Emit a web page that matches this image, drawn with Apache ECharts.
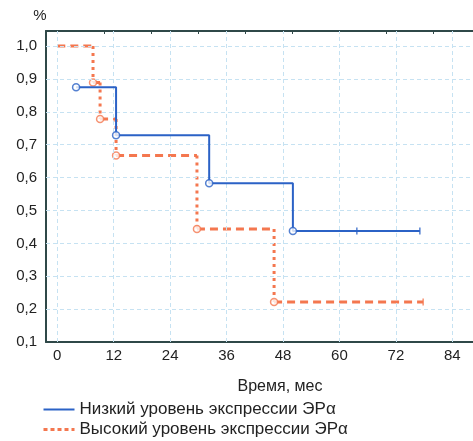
<!DOCTYPE html>
<html>
<head>
<meta charset="utf-8">
<script src="https://cdn.jsdelivr.net/npm/echarts@6/dist/echarts.min.js"></script>
<style>html,body{margin:0;padding:0;background:#fff;}#c{width:473px;height:441px;}</style>
</head>
<body>
<div id="c"></div>
<script>
// Kaplan–Meier steps (time in months, survival fraction)
const lowName = 'Низкий уровень экспрессии ЭРα';
const highName = 'Высокий уровень экспрессии ЭРα';
const lowTimes = [4, 12.5, 32.3, 50.1];
const lowSurv = [0.875, 0.729, 0.583, 0.438];
const lowEnd = 77.1;
const lowCensored = [63.7, 77.1];
const highTimes = [0, 7.6, 9.1, 12.5, 29.7, 46.1];
const highSurv = [1.0, 0.889, 0.778, 0.667, 0.444, 0.222];
const highEnd = 77.8;
const highCensored = [77.8];
const xTicks = [0, 12, 24, 36, 48, 60, 72, 84];
const xTopTicks = [10, 20, 30, 40, 50, 60, 70, 80];
const yTicks = [0.1, 0.2, 0.3, 0.4, 0.5, 0.6, 0.7, 0.8, 0.9, 1.0];

const blue = '#2b62c6';
const red = '#f4774f';
const font = "'Liberation Sans', Arial, sans-serif";

function stepPath(times, surv, end) {
  const pts = [];
  for (let i = 0; i < times.length; i++) {
    const next = i + 1 < times.length ? times[i + 1] : end;
    pts.push([times[i], surv[i]]);
    pts.push([next, surv[i]]);
    if (i + 1 < times.length) pts.push([next, surv[i + 1]]);
  }
  return pts;
}
function horizontals(times, surv, end) {
  const pts = [];
  for (let i = 0; i < times.length; i++) {
    const next = i + 1 < times.length ? times[i + 1] : end;
    pts.push([times[i], surv[i]], [next, surv[i]], null);
  }
  return pts;
}
function verticals(times, surv) {
  const pts = [];
  for (let i = 1; i < times.length; i++) {
    pts.push([times[i], surv[i - 1]], [times[i], surv[i]], null);
  }
  return pts;
}
function censorPts(ct, times, surv) {
  return ct.map(t => {
    let v = surv[0];
    for (let i = 0; i < times.length; i++) if (times[i] <= t) v = surv[i];
    return [t, v];
  });
}

const gridMarks = [];
xTicks.forEach(v => gridMarks.push({ xAxis: v }));
yTicks.slice(1).forEach(v => gridMarks.push({ yAxis: v }));

const tickMark = 'path://M0,0 H1 V10 H0 Z';

const chart = echarts.init(document.getElementById('c'));
chart.setOption({
  animation: false,
  backgroundColor: '#fff',
  textStyle: { fontFamily: font },
  grid: { left: 46, right: 0, top: 31, bottom: 99 },
  xAxis: [{
    type: 'value', min: -2.4, max: 88.4,
    name: 'Время, мес', nameLocation: 'middle', nameGap: 37,
    nameTextStyle: { fontSize: 16, color: '#222', padding: [0, 0, 0, 41] },
    axisLine: { show: true, onZero: false, lineStyle: { color: '#2f4848', width: 2 } },
    axisTick: { show: false, customValues: xTicks },
    axisLabel: { customValues: xTicks, fontSize: 15, color: '#222', margin: 6 },
    splitLine: { show: false }
  }, {
    type: 'value', min: -2.4, max: 88.4, position: 'top',
    axisLine: { show: true, onZero: false, lineStyle: { color: '#2f4848', width: 2 } },
    axisTick: { show: true, inside: true, length: 3, customValues: xTopTicks, lineStyle: { color: '#2f4848' } },
    axisLabel: { show: false },
    splitLine: { show: false }
  }],
  yAxis: {
    type: 'value', min: 0.1, max: 1.046,
    name: '%', nameLocation: 'end', nameGap: 8,
    nameTextStyle: { fontSize: 15, color: '#222', padding: [0, 12, 0, 0] },
    axisLine: { show: true, onZero: false, lineStyle: { color: '#2f4848', width: 2 } },
    axisTick: { show: false, customValues: yTicks },
    axisLabel: {
      customValues: yTicks, fontSize: 15, color: '#222', margin: 9,
      formatter: v => v.toFixed(1).replace('.', ',')
    },
    splitLine: { show: false }
  },
  legend: {
    orient: 'vertical', left: 42, top: 401, height: 40, padding: 0,
    itemWidth: 31, itemHeight: 14, itemGap: 3,
    itemStyle: { opacity: 0 },
    textStyle: { fontSize: 17, color: '#222' },
    data: [
      { name: lowName },
      { name: highName, lineStyle: { type: [4, 3], width: 3 } }
    ]
  },
  series: [
    {
      type: 'line', silent: true, data: [], symbol: 'none',
      markLine: {
        silent: true, symbol: 'none', label: { show: false },
        lineStyle: { color: '#c6e2f2', type: [4, 3], width: 1 },
        data: gridMarks
      }
    },
    {
      name: highName, type: 'line', data: horizontals(highTimes, highSurv, highEnd),
      symbol: 'none', connectNulls: false, z: 3,
      lineStyle: { color: red, width: 3, type: [8, 5] }, itemStyle: { color: red }
    },
    {
      name: 'high-drops', type: 'line', data: verticals(highTimes, highSurv),
      symbol: 'none', connectNulls: false, z: 3,
      lineStyle: { color: red, width: 3, type: [3, 4] }
    },
    {
      type: 'scatter', data: highTimes.slice(1).map((t, i) => [t, highSurv[i + 1]]),
      symbol: 'circle', symbolSize: 7, z: 4,
      itemStyle: { color: '#fff', borderColor: red, borderWidth: 1.5 }
    },
    {
      type: 'scatter', data: censorPts(highCensored, highTimes, highSurv),
      symbol: tickMark, symbolSize: [1.5, 7], z: 4,
      itemStyle: { color: red }
    },
    {
      name: lowName, type: 'line', data: stepPath(lowTimes, lowSurv, lowEnd),
      symbol: 'none', z: 5,
      lineStyle: { color: blue, width: 2, type: 'solid' }, itemStyle: { color: blue }
    },
    {
      type: 'scatter', data: lowTimes.map((t, i) => [t, lowSurv[i]]),
      symbol: 'circle', symbolSize: 7, z: 6,
      itemStyle: { color: '#fff', borderColor: blue, borderWidth: 1.5 }
    },
    {
      type: 'scatter', data: censorPts(lowCensored, lowTimes, lowSurv),
      symbol: tickMark, symbolSize: [1.5, 7], z: 6,
      itemStyle: { color: blue }
    }
  ]
});
</script>
</body>
</html>
